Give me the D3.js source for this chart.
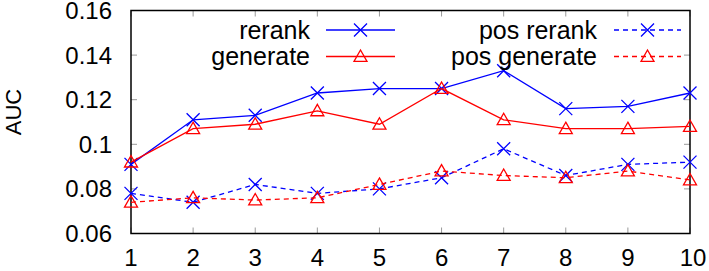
<!DOCTYPE html>
<html>
<head>
<meta charset="utf-8">
<script src="https://cdn.jsdelivr.net/npm/d3@7"></script>
<style>
  body { margin: 0; background: #fff; }
  svg { display: block; font-family: "Liberation Sans", Arial, Helvetica, sans-serif; }
</style>
</head>
<body>
<svg id="chart" width="709" height="271"></svg>
<script>
const xValues = [1, 2, 3, 4, 5, 6, 7, 8, 9, 10];
const rerank = [0.091, 0.111, 0.113, 0.123, 0.125, 0.125, 0.133, 0.116, 0.117, 0.123];
const generate = [0.092, 0.107, 0.109, 0.115, 0.109, 0.125, 0.111, 0.107, 0.107, 0.108];
const posRerank = [0.078, 0.074, 0.082, 0.078, 0.080, 0.085, 0.098, 0.086, 0.091, 0.092];
const posGenerate = [0.074, 0.076, 0.075, 0.076, 0.082, 0.088, 0.086, 0.085, 0.088, 0.084];
const yTicks = [0.06, 0.08, 0.1, 0.12, 0.14, 0.16];
const yTickLabels = ["0.06", "0.08", "0.1", "0.12", "0.14", "0.16"];
const seriesNames = ["rerank", "generate", "pos rerank", "pos generate"];
const yLabel = "AUC";

const series = [
  { name: seriesNames[0], values: rerank, color: "#0000ff", dash: null, marker: "x" },
  { name: seriesNames[1], values: generate, color: "#ff0000", dash: null, marker: "tri" },
  { name: seriesNames[2], values: posRerank, color: "#0000ff", dash: "5,4", marker: "x" },
  { name: seriesNames[3], values: posGenerate, color: "#ff0000", dash: "5,4", marker: "tri" }
];

const svg = d3.select("#chart");
const L = 131, R = 690, T = 10.5, B = 233.5;
const x = d3.scaleLinear().domain([1, 10]).range([L, R]);
const y = d3.scaleLinear().domain([0.06, 0.16]).range([B, T]);

// ticks (inward, mirrored)
const tickLen = 6;
const tg = svg.append("g").attr("stroke", "#999").attr("stroke-width", 1);
xValues.forEach(v => {
  tg.append("line").attr("x1", x(v)).attr("x2", x(v)).attr("y1", B).attr("y2", B - tickLen);
  tg.append("line").attr("x1", x(v)).attr("x2", x(v)).attr("y1", T).attr("y2", T + tickLen);
});
yTicks.forEach(v => {
  tg.append("line").attr("x1", L).attr("x2", L + tickLen).attr("y1", y(v)).attr("y2", y(v));
  tg.append("line").attr("x1", R).attr("x2", R - tickLen).attr("y1", y(v)).attr("y2", y(v));
});

// tick labels
const fontSize = 24;
xValues.forEach(v => {
  svg.append("text").attr("x", x(v) + (v === 10 ? 3 : 0)).attr("y", 266)
    .attr("text-anchor", "middle").attr("font-size", fontSize).attr("fill", "#000").text(v);
});
yTicks.forEach((v, i) => {
  svg.append("text").attr("x", 112).attr("y", y(v) + 8.5)
    .attr("text-anchor", "end").attr("font-size", fontSize).attr("fill", "#000").text(yTickLabels[i]);
});

// y label
svg.append("text").attr("transform", `translate(20.5,112) rotate(-90)`)
  .attr("text-anchor", "middle").attr("font-size", 22).attr("fill", "#000").text(yLabel);

// frame
svg.append("rect").attr("x", L).attr("y", T).attr("width", R - L).attr("height", B - T)
  .attr("fill", "none").attr("stroke", "#000").attr("stroke-width", 1.5);

function drawMarker(g, type, cx, cy, color) {
  const s = 6.5;
  if (type === "x") {
    g.append("path").attr("d", `M${cx - s},${cy - s}L${cx + s},${cy + s}M${cx - s},${cy + s}L${cx + s},${cy - s}`)
      .attr("stroke", color).attr("stroke-width", 1.3).attr("fill", "none");
  } else {
    g.append("path").attr("d", `M${cx},${cy - s}L${cx + s},${cy + s * 0.75}L${cx - s},${cy + s * 0.75}Z`)
      .attr("stroke", color).attr("stroke-width", 1.3).attr("fill", "none");
  }
}

const line = d3.line().x((d, i) => x(xValues[i])).y(d => y(d));
const plot = svg.append("g");
series.forEach(s => {
  plot.append("path").datum(s.values).attr("d", line)
    .attr("fill", "none").attr("stroke", s.color).attr("stroke-width", 1.3)
    .attr("stroke-dasharray", s.dash);
  s.values.forEach((v, i) => drawMarker(plot, s.marker, x(xValues[i]), y(v), s.color));
});

// legend
const legendPos = [
  { tx: 310, ly: 30, x1: 326, x2: 395 },
  { tx: 310, ly: 56.5, x1: 326, x2: 395 },
  { tx: 597, ly: 30, x1: 614, x2: 681 },
  { tx: 597, ly: 56.5, x1: 614, x2: 681 }
];
series.forEach((s, i) => {
  const p = legendPos[i];
  svg.append("text").attr("x", p.tx).attr("y", p.ly + 8.5).attr("text-anchor", "end")
    .attr("font-size", 25).attr("fill", "#000").text(s.name);
  svg.append("line").attr("x1", p.x1).attr("x2", p.x2).attr("y1", p.ly).attr("y2", p.ly)
    .attr("stroke", s.color).attr("stroke-width", 1.3).attr("stroke-dasharray", s.dash);
  drawMarker(svg, s.marker, (p.x1 + p.x2) / 2, p.ly, s.color);
});
</script>
</body>
</html>
